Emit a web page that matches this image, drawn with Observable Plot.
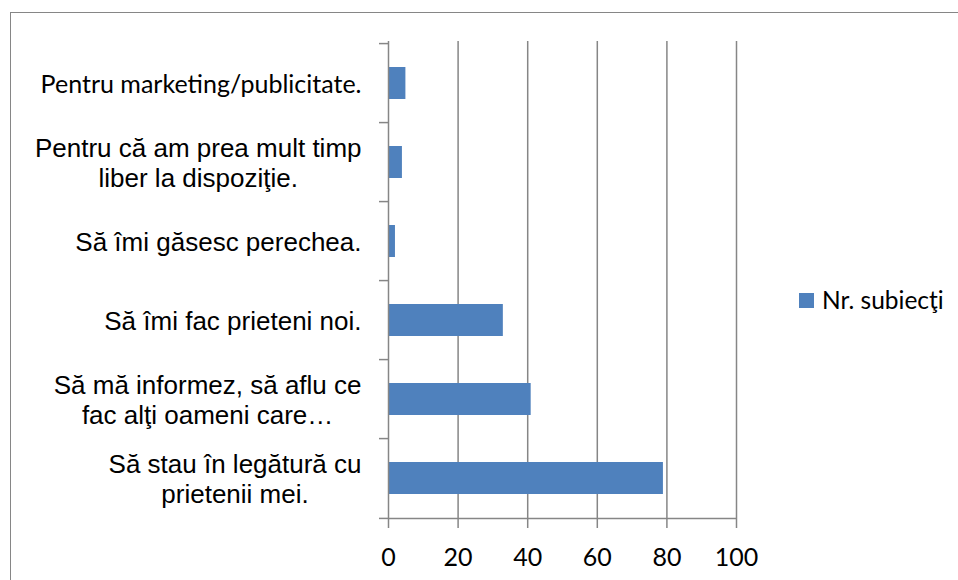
<!DOCTYPE html>
<html>
<head>
<meta charset="utf-8">
<script src="https://cdn.jsdelivr.net/npm/d3@7"></script>
<script src="https://cdn.jsdelivr.net/npm/@observablehq/plot@0.6"></script>
<style>
  html, body { margin: 0; padding: 0; background: #fff; }
  #wrap { position: relative; width: 958px; height: 580px; overflow: hidden; background: #fff; }
  #border { position: absolute; left: 10px; top: 12px; width: 2000px; height: 2000px; border: 1px solid #868686; box-sizing: border-box; }
  #chart { position: absolute; left: 0; top: 0; }
  #legend { position: absolute; left: 799px; top: 285px; display: flex; align-items: center; font-family: Lato, "Open Sans", sans-serif; font-size: 24.5px; color: #000; line-height: 30px; }
  #legend .sw { width: 15px; height: 15px; background: #4F81BD; margin-right: 8px; }
</style>
</head>
<body>
<div id="wrap">
  <div id="border"></div>
  <div id="chart"></div>
  <div id="legend"><span class="sw"></span><span id="legend-text"></span></div>
</div>
<script>
const categories = [
  "Pentru marketing/publicitate.",
  "Pentru că am prea mult timp liber la dispoziţie.",
  "Să îmi găsesc perechea.",
  "Să îmi fac prieteni noi.",
  "Să mă informez, să aflu ce fac alţi oameni care…",
  "Să stau în legătură cu prietenii mei."
];
const labelLines = [
  ["Pentru marketing/publicitate."],
  ["Pentru că am prea mult timp", "liber la dispoziţie."],
  ["Să îmi găsesc perechea."],
  ["Să îmi fac prieteni noi."],
  ["Să mă informez, să aflu ce", "fac alţi oameni care…"],
  ["Să stau în legătură cu", "prietenii mei."]
];
const values = [5, 4, 2, 33, 41, 79];
const xTicks = [0, 20, 40, 60, 80, 100];
const gridTicks = [20, 40, 60, 80, 100];
const seriesName = "Nr. subiecţi";

const W = 958, H = 580;
const mt = 41, mb = 60, ml = 388, mr = 222;
const step = (H - mt - mb) / categories.length;
const grey = "#868686";
const barColor = "#4F81BD";

const data = categories.map((c, i) => ({c, v: values[i]}));

const canvas = document.createElement("canvas");
const ctx = canvas.getContext("2d");
const measure = (txt, font) => { ctx.font = font; return ctx.measureText(txt).width; };

const labelMarks = categories.map((c, i) => {
  const calibriLike = i === 0;
  const fam = calibriLike ? "Lato" : "Liberation Sans";
  const fs = calibriLike ? 25 : 26;
  const lines = labelLines[i];
  const maxW = Math.max(...lines.map(l => measure(l, `${fs}px "${fam}"`)));
  return Plot.text([c], {
    y: d => d,
    text: () => lines.join("\n"),
    frameAnchor: "left",
    textAnchor: "middle",
    dx: -(27 + maxW / 2),
    fontFamily: fam,
    fontSize: fs,
    lineHeight: 1.15,
    fill: "#000"
  });
});

const chart = Plot.plot({
  width: W,
  height: H,
  marginTop: mt,
  marginBottom: mb,
  marginLeft: ml,
  marginRight: mr,
  style: {background: "transparent", overflow: "visible"},
  x: {domain: [0, 100], label: null},
  y: {domain: categories, paddingInner: 0.6, paddingOuter: 0.3, axis: null, label: null},
  marks: [
    Plot.gridX({ticks: gridTicks, stroke: grey, strokeOpacity: 1, strokeWidth: 1.5}),
    Plot.barX(data, {x: "v", y: "c", fill: barColor}),
    Plot.ruleX([0], {stroke: grey, strokeWidth: 1.5}),
    Plot.ruleY([categories[categories.length - 1]], {dy: step / 2, stroke: grey, strokeWidth: 1.5}),
    Plot.axisY({ticks: categories, tickSize: 9, tickFormat: () => "", label: null, dy: -step / 2, stroke: grey, strokeWidth: 1.5}),
    Plot.axisY({ticks: [categories[categories.length - 1]], tickSize: 9, tickFormat: () => "", label: null, dy: step / 2, stroke: grey, strokeWidth: 1.5}),
    Plot.axisX({ticks: xTicks, tickSize: 8, tickPadding: 20, label: null, stroke: grey, strokeWidth: 1.5, fill: "#000", fontSize: 25, fontFamily: "Lato"}),
    ...labelMarks
  ]
});
document.getElementById("chart").appendChild(chart);
document.getElementById("legend-text").textContent = seriesName;
</script>
</body>
</html>
